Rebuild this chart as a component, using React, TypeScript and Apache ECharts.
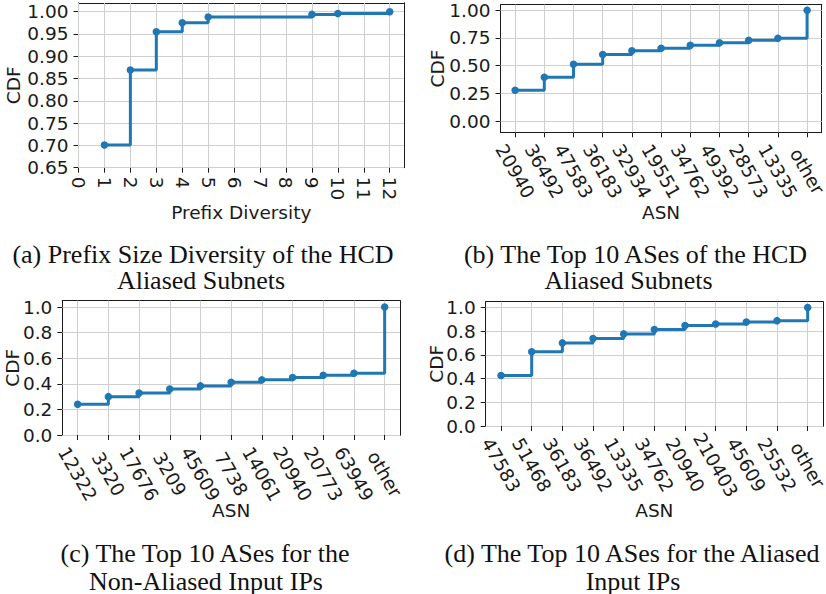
import React, { useEffect, useRef } from "react";
import * as echarts from "echarts";

// ---- data ----
const prefixDiversity = [1, 2, 3, 4, 5, 9, 10, 12];
const prefixCdf = [0.701, 0.869, 0.955, 0.975, 0.988, 0.994, 0.996, 1.0];
const prefixTicks = [0, 1, 2, 3, 4, 5, 6, 7, 8, 9, 10, 11, 12];
const prefixCdfTicks = [0.65, 0.7, 0.75, 0.8, 0.85, 0.9, 0.95, 1.0];

const hcdAsn = ["20940", "36492", "47583", "36183", "32934", "19551", "34762", "49392", "28573", "13335", "other"];
const hcdCdf = [0.279, 0.396, 0.514, 0.601, 0.634, 0.658, 0.685, 0.706, 0.73, 0.748, 1.0];
const hcdCdfTicks = [0, 0.25, 0.5, 0.75, 1.0];

const nonAliasedAsn = ["12322", "3320", "17676", "3209", "45609", "7738", "14061", "20940", "20773", "63949", "other"];
const nonAliasedCdf = [0.24, 0.3, 0.329, 0.36, 0.384, 0.413, 0.431, 0.449, 0.467, 0.483, 1.0];

const aliasedAsn = ["47583", "51468", "36183", "36492", "13335", "34762", "20940", "210403", "45609", "25532", "other"];
const aliasedCdf = [0.427, 0.627, 0.702, 0.739, 0.778, 0.815, 0.848, 0.862, 0.879, 0.89, 1.0];

const cdfTicks = [0, 0.2, 0.4, 0.6, 0.8, 1.0];
const asnTickIdx = [0, 1, 2, 3, 4, 5, 6, 7, 8, 9, 10];

const captions = [
  ["(a) Prefix Size Diversity of the HCD", "Aliased Subnets"],
  ["(b) The Top 10 ASes of the HCD", "Aliased Subnets"],
  ["(c) The Top 10 ASes for the", "Non-Aliased Input IPs"],
  ["(d) The Top 10 ASes for the Aliased", "Input IPs"],
];

const BLUE = "#1f77b4";
const INK = "#1a1a1a";
const GRIDC = "#cfcfcf";
const SANS = "DejaVu Sans";
const SERIF = "Liberation Serif";
const FS = 18.5;

type Panel = {
  grid: { left: number; top: number; width: number; height: number };
  xMin: number; xMax: number; xIntv: number; xMinIsMultiple: boolean;
  xTicks: number[]; xFmt: (v: number) => string; xRotate: number; xMargin: number; xCenter: boolean;
  yMin: number; yMax: number; yIntv: number; yMinIsMultiple: boolean;
  yTicks: number[]; yDigits: number;
  xName: string; xNameGap: number; yNameGap: number;
  data: number[][];
};

const catFmt = (cats: string[]) => (v: number) => (Number.isInteger(v) && cats[v] !== undefined ? cats[v] : "");

const panels: Panel[] = [
  {
    grid: { left: 78.5, top: 2.8, width: 325.5, height: 164.9 },
    xMin: 0, xMax: 12.55, xIntv: 1, xMinIsMultiple: true,
    xTicks: prefixTicks, xFmt: (v) => String(v), xRotate: -90, xMargin: 9, xCenter: false,
    yMin: 0.65, yMax: 1.02, yIntv: 0.05, yMinIsMultiple: true,
    yTicks: prefixCdfTicks, yDigits: 2,
    xName: "Prefix Diversity", xNameGap: 35, yNameGap: 56,
    data: prefixDiversity.map((x, i) => [x, prefixCdf[i]]),
  },
  {
    grid: { left: 500.5, top: 4.7, width: 321.2, height: 127.6 },
    xMin: -0.5, xMax: 10.5, xIntv: 1, xMinIsMultiple: false,
    xTicks: asnTickIdx, xFmt: catFmt(hcdAsn), xRotate: -60, xMargin: 39, xCenter: true,
    yMin: -0.1, yMax: 1.05, yIntv: 0.25, yMinIsMultiple: false,
    yTicks: hcdCdfTicks, yDigits: 2,
    xName: "ASN", xNameGap: 71, yNameGap: 54,
    data: hcdCdf.map((y, i) => [i, y]),
  },
  {
    grid: { left: 62.3, top: 300.7, width: 337.7, height: 134.3 },
    xMin: -0.5, xMax: 10.5, xIntv: 1, xMinIsMultiple: false,
    xTicks: asnTickIdx, xFmt: catFmt(nonAliasedAsn), xRotate: -60, xMargin: 39, xCenter: true,
    yMin: 0, yMax: 1.05, yIntv: 0.2, yMinIsMultiple: true,
    yTicks: cdfTicks, yDigits: 1,
    xName: "ASN", xNameGap: 66, yNameGap: 40,
    data: nonAliasedCdf.map((y, i) => [i, y]),
  },
  {
    grid: { left: 485.7, top: 301.7, width: 337.3, height: 124.3 },
    xMin: -0.5, xMax: 10.5, xIntv: 1, xMinIsMultiple: false,
    xTicks: asnTickIdx, xFmt: catFmt(aliasedAsn), xRotate: -60, xMargin: 39, xCenter: true,
    yMin: 0, yMax: 1.05, yIntv: 0.2, yMinIsMultiple: true,
    yTicks: cdfTicks, yDigits: 1,
    xName: "ASN", xNameGap: 75, yNameGap: 40,
    data: aliasedCdf.map((y, i) => [i, y]),
  },
];

const captionPos = [
  { x: 203, y1: 254, x2: 201, y2: 280.5 },
  { x: 635.5, y1: 254, x2: 628.5, y2: 280.5 },
  { x: 205, y1: 553, x2: 206, y2: 581 },
  { x: 632, y1: 553, x2: 633, y2: 581 },
];

function intervalOpts(min: number, intv: number, isMultiple: boolean) {
  return isMultiple ? { interval: intv } : { minInterval: intv, maxInterval: intv };
}

function buildOption() {
  const grids: any[] = [];
  const xAxes: any[] = [];
  const yAxes: any[] = [];
  const series: any[] = [];
  const graphics: any[] = [];
  const spine = { show: true, onZero: false, lineStyle: { color: INK, width: 1 } };
  const tickStyle = { color: INK, width: 1 };
  const labelBase = { fontSize: FS, fontFamily: SANS, color: INK };

  panels.forEach((p, i) => {
    grids.push({ ...p.grid, show: false, containLabel: false, outerBoundsMode: "none" });
    const xi = { ...intervalOpts(p.xMin, p.xIntv, p.xMinIsMultiple) };
    const yi = { ...intervalOpts(p.yMin, p.yIntv, p.yMinIsMultiple) };
    xAxes.push({
      type: "value", gridIndex: i, position: "bottom", min: p.xMin, max: p.xMax, ...xi,
      axisLine: spine,
      axisTick: { show: true, customValues: p.xTicks, length: 5, inside: false, lineStyle: tickStyle },
      axisLabel: {
        ...labelBase, customValues: p.xTicks, formatter: p.xFmt, rotate: p.xRotate, margin: p.xMargin,
        ...(p.xCenter ? { align: "center", verticalAlign: "middle" } : {}),
      },
      splitLine: { show: false },
      name: p.xName, nameLocation: "middle", nameGap: p.xNameGap, nameMoveOverlap: false,
      nameTextStyle: { fontSize: FS, fontFamily: SANS, color: INK },
    });
    xAxes.push({
      type: "value", gridIndex: i, position: "top", min: p.xMin, max: p.xMax, ...xi,
      axisLine: spine,
      axisTick: { show: true, customValues: p.xTicks, inside: true, length: p.grid.height, lineStyle: { color: GRIDC, width: 1 } },
      axisLabel: { show: false },
      splitLine: { show: false },
    });
    yAxes.push({
      type: "value", gridIndex: i, position: "left", min: p.yMin, max: p.yMax, ...yi,
      axisLine: spine,
      axisTick: { show: true, customValues: p.yTicks, length: 5, inside: false, lineStyle: tickStyle },
      axisLabel: {
        ...labelBase, customValues: p.yTicks, margin: 10,
        formatter: (v: number) => v.toFixed(p.yDigits),
      },
      splitLine: { show: false },
      name: "CDF", nameLocation: "middle", nameGap: p.yNameGap, nameMoveOverlap: false,
      nameTextStyle: { fontSize: FS, fontFamily: SANS, color: INK },
    });
    yAxes.push({
      type: "value", gridIndex: i, position: "right", min: p.yMin, max: p.yMax, ...yi,
      axisLine: spine,
      axisTick: { show: true, customValues: p.yTicks, inside: true, length: p.grid.width, lineStyle: { color: GRIDC, width: 1 } },
      axisLabel: { show: false },
      splitLine: { show: false },
    });
    series.push({
      type: "line", xAxisIndex: 2 * i, yAxisIndex: 2 * i, data: p.data, step: "end",
      symbol: "circle", symbolSize: 7.5, showSymbol: true, showAllSymbol: true,
      lineStyle: { color: BLUE, width: 3 }, itemStyle: { color: BLUE },
      clip: false, z: 3,
    });
    const cp = captionPos[i];
    const cap = captions[i];
    [[cap[0], cp.x, cp.y1], [cap[1], cp.x2, cp.y2]].forEach(([t, x, y]) => {
      graphics.push({
        type: "text", x, y, silent: true,
        style: {
          text: t, fontSize: 26, fontFamily: SERIF, fill: "#111",
          align: "center", textAlign: "center", verticalAlign: "middle", textVerticalAlign: "middle",
        },
      });
    });
  });

  return {
    animation: false,
    backgroundColor: "#ffffff",
    grid: grids,
    xAxis: xAxes,
    yAxis: yAxes,
    series,
    graphic: graphics,
  };
}

export default function App() {
  const ref = useRef<HTMLDivElement>(null);
  useEffect(() => {
    if (!ref.current) return;
    const chart = echarts.init(ref.current, undefined, { renderer: "svg" });
    chart.setOption(buildOption() as any);
    return () => chart.dispose();
  }, []);
  return (
    <div
      ref={ref}
      style={{ position: "fixed", left: 0, top: 0, width: 826, height: 594, background: "#fff" }}
    />
  );
}
